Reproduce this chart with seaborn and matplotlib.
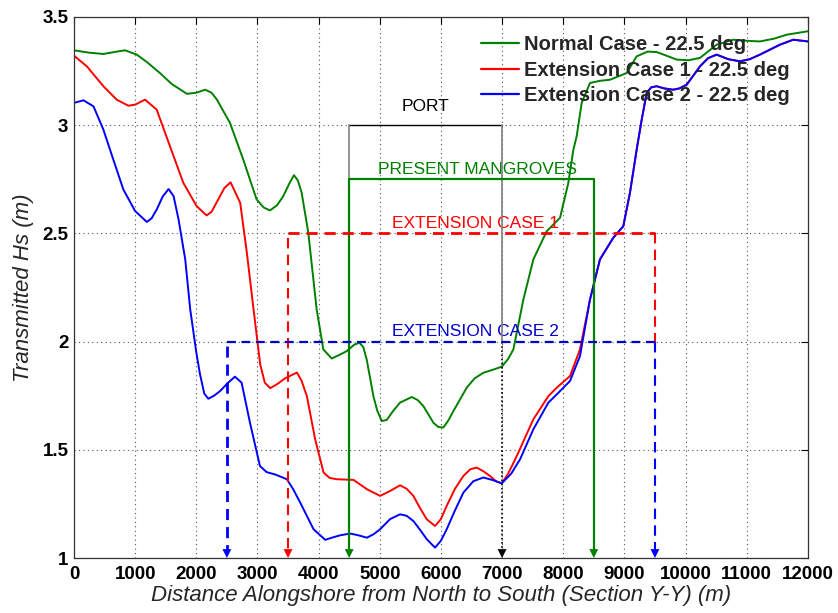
import numpy as np
import pandas as pd
import matplotlib
matplotlib.use("Agg")
import matplotlib.pyplot as plt
import seaborn as sns

# Transmitted wave height along the shoreline (m), three layouts
normal_x = [0, 250, 480, 700, 835, 1027, 1200, 1405, 1600, 1846, 2000, 2145, 2250,
            2337, 2550, 2768, 2986, 3100, 3204, 3320, 3422, 3520, 3597, 3660, 3722,
            3831, 3968, 4077, 4214, 4350, 4459, 4580, 4666, 4730, 4786, 4896, 4960,
            5033, 5114, 5220, 5332, 5523, 5620, 5713, 5877, 5960, 6040, 6120, 6204,
            6422, 6550, 6694, 6850, 6995, 7100, 7185, 7349, 7512, 7730, 7948, 8084,
            8166, 8220, 8302, 8438, 8600, 8765, 9037, 9201, 9380, 9528, 9700, 9855,
            10050, 10237, 10509, 10782, 11000, 11217, 11450, 11653, 12000]
normal_hs = [3.346, 3.335, 3.329, 3.340, 3.346, 3.326, 3.290, 3.241, 3.190, 3.145,
             3.150, 3.164, 3.150, 3.118, 3.011, 2.841, 2.657, 2.620, 2.606, 2.630,
             2.672, 2.730, 2.769, 2.745, 2.689, 2.504, 2.149, 1.964, 1.922, 1.940,
             1.956, 1.985, 1.995, 1.975, 1.918, 1.748, 1.680, 1.633, 1.638, 1.680,
             1.718, 1.744, 1.730, 1.702, 1.625, 1.605, 1.603, 1.635, 1.679, 1.787,
             1.830, 1.856, 1.870, 1.884, 1.920, 1.964, 2.195, 2.380, 2.510, 2.572,
             2.734, 2.887, 2.949, 3.103, 3.195, 3.205, 3.210, 3.241, 3.318, 3.340,
             3.338, 3.320, 3.303, 3.300, 3.311, 3.372, 3.395, 3.390, 3.387, 3.400,
             3.418, 3.434]

ext1_x = [0, 210, 480, 698, 888, 1000, 1161, 1352, 1569, 1787, 2005, 2168, 2250,
          2359, 2460, 2561, 2620, 2718, 2827, 2936, 3045, 3120, 3209, 3330, 3450,
          3645, 3720, 3808, 3944, 4081, 4180, 4299, 4571, 4789, 5006, 5170, 5332,
          5440, 5550, 5660, 5768, 5904, 6000, 6095, 6230, 6367, 6480, 6585, 6700,
          6803, 6900, 6995, 7100, 7240, 7512, 7757, 7894, 8111, 8274, 8438, 8601,
          8819, 8982, 9091, 9201, 9280, 9364, 9440, 9528, 9650, 9800, 9900, 10018,
          10130, 10237, 10370, 10509, 10700, 10891, 11050, 11217, 11544, 11762,
          12000]
ext1_hs = [3.321, 3.272, 3.180, 3.118, 3.090, 3.095, 3.118, 3.072, 2.903, 2.734,
           2.626, 2.583, 2.600, 2.657, 2.710, 2.736, 2.700, 2.641, 2.410, 2.149,
           1.895, 1.810, 1.785, 1.805, 1.830, 1.857, 1.820, 1.748, 1.548, 1.395,
           1.370, 1.364, 1.361, 1.318, 1.287, 1.310, 1.336, 1.320, 1.287, 1.230,
           1.179, 1.148, 1.180, 1.241, 1.320, 1.379, 1.410, 1.418, 1.400, 1.379,
           1.355, 1.345, 1.390, 1.471, 1.641, 1.748, 1.787, 1.841, 1.964, 2.195,
           2.380, 2.480, 2.533, 2.687, 2.887, 3.020, 3.149, 3.175, 3.180, 3.170,
           3.164, 3.170, 3.187, 3.230, 3.272, 3.310, 3.326, 3.305, 3.295, 3.305,
           3.326, 3.372, 3.395, 3.387]

ext2_x = [0, 155, 319, 480, 643, 807, 1000, 1191, 1270, 1352, 1450, 1547, 1629,
          1710, 1819, 1900, 2000, 2060, 2130, 2196, 2290, 2387, 2520, 2632, 2741,
          2877, 3041, 3150, 3300, 3481, 3580, 3699, 3917, 4108, 4230, 4354, 4517,
          4650, 4789, 4900, 5006, 5170, 5332, 5440, 5550, 5660, 5768, 5904, 6000,
          6095, 6230, 6367, 6530, 6694, 6850, 6995, 7150, 7294, 7512, 7757, 7894,
          8111, 8274, 8438, 8601, 8819, 8982, 9091, 9201, 9280, 9364, 9440, 9528,
          9650, 9800, 9900, 10018, 10130, 10237, 10370, 10509, 10700, 10891, 11050,
          11217, 11544, 11762, 12000]
ext2_hs = [3.103, 3.115, 3.087, 2.980, 2.841, 2.703, 2.603, 2.553, 2.570, 2.610,
           2.670, 2.705, 2.672, 2.564, 2.380, 2.150, 1.950, 1.850, 1.760, 1.736,
           1.750, 1.771, 1.810, 1.838, 1.810, 1.626, 1.425, 1.397, 1.385, 1.364,
           1.320, 1.256, 1.133, 1.084, 1.095, 1.105, 1.113, 1.105, 1.094, 1.110,
           1.133, 1.180, 1.202, 1.195, 1.171, 1.130, 1.087, 1.048, 1.080, 1.133,
           1.220, 1.302, 1.355, 1.372, 1.360, 1.345, 1.390, 1.456, 1.595, 1.718,
           1.756, 1.818, 1.933, 2.195, 2.380, 2.480, 2.533, 2.687, 2.887, 3.020,
           3.149, 3.175, 3.180, 3.170, 3.164, 3.170, 3.187, 3.230, 3.272, 3.310,
           3.326, 3.305, 3.295, 3.305, 3.326, 3.372, 3.395, 3.387]

series_names = ["Normal Case - 22.5 deg",
                "Extension Case 1 - 22.5 deg",
                "Extension Case 2 - 22.5 deg"]
series_colors = ["#008000", "#ff0000", "#0000ff"]

# Zone extents along the shore (m) and the level of their brackets (m)
port_span = (4500, 7000, 3.0)
mangrove_span = (4500, 8500, 2.75)
ext1_span = (3500, 9500, 2.5)
ext2_span = (2500, 9500, 2.0)

x_ticks = list(range(0, 12001, 1000))
y_ticks = [1, 1.5, 2, 2.5, 3, 3.5]
y_tick_labels = ["1", "1.5", "2", "2.5", "3", "3.5"]

df = pd.concat([
    pd.DataFrame({"x": normal_x, "hs": normal_hs, "case": series_names[0]}),
    pd.DataFrame({"x": ext1_x, "hs": ext1_hs, "case": series_names[1]}),
    pd.DataFrame({"x": ext2_x, "hs": ext2_hs, "case": series_names[2]}),
], ignore_index=True)

sns.set_style("white")
plt.rcParams["font.family"] = ["Liberation Sans", "DejaVu Sans"]

fig = plt.figure(figsize=(8.38, 6.13), dpi=100)
ax = fig.add_axes([0.0883, 0.0897, 0.8757, 0.8826])

sns.lineplot(data=df, x="x", y="hs", hue="case", hue_order=series_names,
             palette=series_colors, linewidth=1.4, ax=ax, sort=False,
             estimator=None, legend=True)

def arrow_down(x, color):
    ax.annotate("", xy=(x, 1.0), xytext=(x, 1.07),
                arrowprops=dict(arrowstyle="-|>", color=color, lw=0,
                                mutation_scale=16, shrinkA=0, shrinkB=0),
                zorder=6)

# Port bracket
x0, x1, lv = port_span
ax.plot([x0, x1], [lv, lv], color="black", lw=1.0, zorder=4)
ax.plot([x0, x0], [lv, mangrove_span[2]], color="#808080", lw=1.2, zorder=4)
ax.plot([x1, x1], [lv, 2.0], color="#808080", lw=1.2, zorder=4)
ax.plot([x1, x1], [2.0, 1.03], color="black", lw=1.2, ls=(0, (1, 1.5)), zorder=4)
arrow_down(x1, "black")
ax.text(5750, 3.05, "PORT", ha="center", va="bottom", fontsize=12.5, color="black")

# Present mangroves bracket
x0, x1, lv = mangrove_span
ax.plot([x0, x1, x1], [lv, lv, 1.03], color="#008000", lw=1.6, zorder=4)
ax.plot([x0, x0], [lv, 1.03], color="#008000", lw=1.6, zorder=4)
arrow_down(x0, "#008000")
arrow_down(x1, "#008000")
ax.text(6600, 2.762, "PRESENT MANGROVES", ha="center", va="bottom",
        fontsize=12.5, color="#008000")

# Extension case 1 bracket
x0, x1, lv = ext1_span
ax.plot([x0, x1], [lv, lv], color="#ff0000", lw=2.0, ls=(0, (4, 2.5)), zorder=4)
ax.plot([x0, x0], [lv - 0.02, 1.03], color="#ff0000", lw=1.5, ls=(0, (5, 3)), zorder=4)
ax.plot([x1, x1], [lv, 2.0], color="#ff0000", lw=1.5, ls=(0, (5, 3)), zorder=4)
arrow_down(x0, "#ff0000")
ax.text(6570, 2.512, "EXTENSION CASE 1", ha="center", va="bottom",
        fontsize=12.5, color="#ff0000")

# Extension case 2 bracket
x0, x1, lv = ext2_span
ax.plot([x0, x1], [lv, lv], color="#0000cc", lw=1.6, ls=(0, (4, 2.5)), zorder=4)
ax.plot([x0, x0], [lv - 0.02, 1.03], color="#0000ff", lw=2.0, ls=(0, (4, 2.5)), zorder=4)
ax.plot([x1, x1], [lv, 1.03], color="#0000ff", lw=1.5, ls=(0, (5, 3)), zorder=4)
arrow_down(x0, "#0000ff")
arrow_down(x1, "#0000ff")
ax.text(6570, 2.012, "EXTENSION CASE 2", ha="center", va="bottom",
        fontsize=12.5, color="#0000cc")

ax.set_xlim(0, 12000)
ax.set_ylim(1, 3.5)
ax.set_xticks(x_ticks)
ax.set_xticklabels([str(t) for t in x_ticks], fontsize=13.5, fontweight="bold")
ax.set_yticks(y_ticks)
ax.set_yticklabels(y_tick_labels, fontsize=13.5, fontweight="bold")
ax.tick_params(direction="in", length=5, width=0.8, top=True, right=True,
               pad=4, colors="black")
ax.tick_params(axis="x", pad=6)
ax.grid(True, color="#555555", ls=(0, (1, 3)), lw=0.8)
for s in ax.spines.values():
    s.set_color("#333333")
    s.set_linewidth(0.9)

ax.set_xlabel("Distance Alongshore from North to South (Section Y-Y) (m)",
              fontsize=16, style="italic", labelpad=1)
ax.set_ylabel("Transmitted Hs (m)", fontsize=16, style="italic", labelpad=6)

leg = ax.legend(loc="upper right", bbox_to_anchor=(1.0, 1.0), frameon=False,
                prop={"weight": "bold", "size": 14.5}, handlelength=1.9,
                handletextpad=0.25, labelspacing=0.33, borderaxespad=0.5)
for h in leg.get_lines():
    h.set_linewidth(1.6)

fig.savefig("out.png", dpi=100)
